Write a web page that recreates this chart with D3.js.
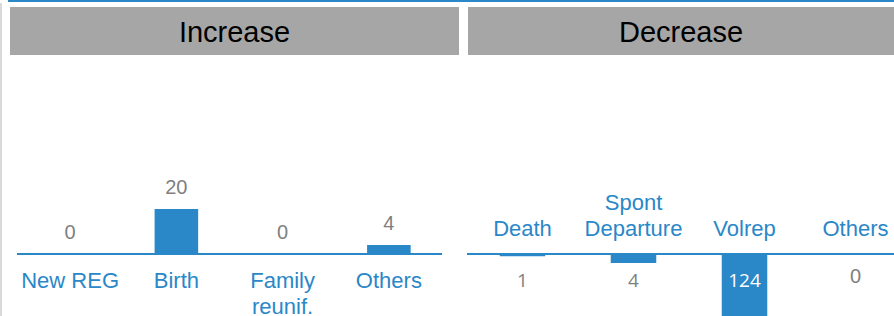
<!DOCTYPE html>
<html>
<head>
<meta charset="utf-8">
<script src="https://cdn.jsdelivr.net/npm/d3@7"></script>
<style>
  body { margin: 0; background: #fff; }
  svg { display: block; font-family: "Liberation Sans", Arial, sans-serif; }
</style>
</head>
<body>
<div id="chart"></div>
<script>
const incTitle = 'Increase';
const incCats = ['New REG', 'Birth', 'Family\nreunif.', 'Others'];
const incValues = [0, 20, 0, 4];

const decTitle = 'Decrease';
const decCats = ['Death', 'Spont\nDeparture', 'Volrep', 'Others'];
const decValues = [1, 4, 124, 0];

const blue = '#2a87c8';
const grey = '#7f7f7f';

function drawPanel(svg, {title, cats, values, x0, x1, headX0, headX1, up}) {
  const base = 254;
  // same pixels-per-unit in both panels
  const h = d3.scaleLinear().domain([0, 20]).range([0, 45]);
  const x = d3.scaleBand()
        .domain(cats)
        .range([x0, x1])
        .paddingInner(0.59)
        .paddingOuter(0.295);

  const g = svg.append('g');
  g.append('rect')
    .attr('x', headX0)
    .attr('y', 7)
    .attr('width', headX1 - headX0)
    .attr('height', 48)
    .attr('fill', '#a6a6a6');
  g.append('text')
    .attr('x', (headX0 + headX1) / 2)
    .attr('y', 42)
    .attr('text-anchor', 'middle')
    .style('font-size', '29px')
    .attr('fill', '#000')
    .text(title);

  g.selectAll('.bar')
    .data(values)
    .enter().append('rect')
    .attr('class', 'bar')
    .attr('x', (_, i) => x(cats[i]))
    .attr('width', x.bandwidth())
    .attr('y', d => up ? base - h(d) : base)
    .attr('height', d => h(d))
    .attr('fill', blue);

  g.append('line')
    .attr('x1', x0)
    .attr('x2', Math.min(x1, 894))
    .attr('y1', base)
    .attr('y2', base)
    .attr('stroke', blue)
    .attr('stroke-width', 2);

  // value labels
  g.selectAll('.val')
    .data(values)
    .enter().append('text')
    .attr('class', 'val')
    .attr('text-anchor', 'middle')
    .attr('x', (_, i) => x(cats[i]) + x.bandwidth() / 2)
    .attr('y', d => {
      if (up) return base - h(d) - 15;
      return d === 0 ? base + 29 : base + 33;
    })
    .style('font-family', d => (!up && d > 0) ? '"Open Sans", sans-serif' : null)
    .style('font-size', d => (!up && d > 0) ? '19px' : '20px')
    .attr('fill', d => (!up && base + h(d) > base + 33) ? '#fff' : grey)
    .text(d => d);

  // category labels, below the axis for increase, above for decrease
  const lh = 26;
  const cat = g.selectAll('.cat')
    .data(cats)
    .enter().append('text')
    .attr('class', 'cat')
    .attr('text-anchor', 'middle')
    .style('font-size', '22px')
    .attr('fill', blue);
  cat.each(function(d) {
    const lines = d.split('\n');
    const cx = x(d) + x.bandwidth() / 2;
    const first = up ? 288 : 236 - (lines.length - 1) * lh;
    d3.select(this).selectAll('tspan')
      .data(lines)
      .enter().append('tspan')
      .attr('x', cx)
      .attr('y', (_, i) => first + i * lh)
      .text(l => l);
  });
}

const svg = d3.select('#chart').append('svg')
      .attr('width', 894)
      .attr('height', 316);

// frame bits
svg.append('rect')
  .attr('x', 8).attr('y', 0).attr('width', 886).attr('height', 2)
  .attr('fill', blue);
svg.append('rect')
  .attr('x', 0).attr('y', 3).attr('width', 2).attr('height', 313)
  .attr('fill', '#d9d9d9');

drawPanel(svg, {title: incTitle, cats: incCats, values: incValues,
                x0: 17, x1: 442, headX0: 10, headX1: 459, up: true});
drawPanel(svg, {title: decTitle, cats: decCats, values: decValues,
                x0: 467, x1: 911, headX0: 468, headX1: 894, up: false});
</script>
</body>
</html>
